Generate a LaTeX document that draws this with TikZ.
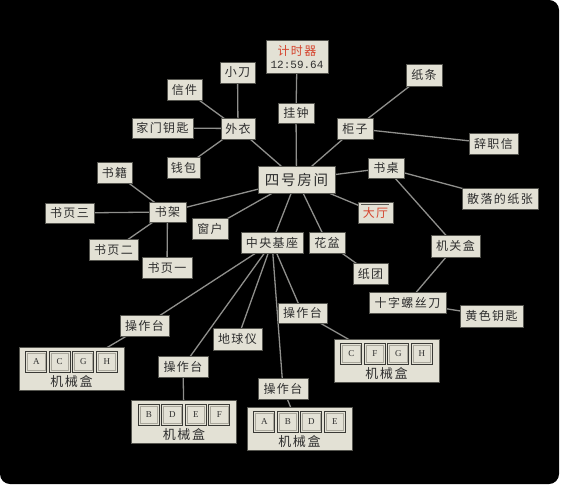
\documentclass[tikz,border=0pt]{standalone}
\usepackage{fontspec}
\newfontfamily\cjk[LetterSpace=12]{Noto Sans CJK SC}
\newfontfamily\keyfont{Liberation Serif}
\newfontfamily\digitfont{Liberation Mono}
\usetikzlibrary{backgrounds}
\definecolor{boxfill}{HTML}{E3E1D5}
\definecolor{boxline}{HTML}{55554F}
\definecolor{edgecol}{HTML}{8F8F8C}
\definecolor{txtcol}{HTML}{2E2E2E}
\definecolor{redtxt}{HTML}{D5442E}
\definecolor{keyline}{HTML}{3A3A36}
\definecolor{keyinner}{HTML}{A9A79C}
\tikzset{
  itembox/.style={draw=boxline, line width=0.6pt, fill=boxfill, inner sep=0pt,
    text=txtcol, font=\cjk\fontsize{12}{12}\selectfont, minimum height=21pt},
  bigbox/.style={itembox, font=\cjk\fontsize{14.5}{14.5}\selectfont, minimum height=27pt, minimum width=77pt},
  plaintext/.style={inner sep=0pt, text=txtcol, font=\cjk\fontsize{12}{12}\selectfont},
  link/.style={draw=edgecol, line width=1.3pt},
  keybox/.style={draw=keyline, line width=1pt, fill=boxfill, minimum width=21pt,
    minimum height=21pt, inner sep=0pt, font=\keyfont\fontsize{9}{9}\selectfont, text=txtcol,
    path picture={\draw[keyinner, line width=0.6pt]
      ([shift={(1.8pt,-1.8pt)}]path picture bounding box.north west) rectangle
      ([shift={(-1.8pt,1.8pt)}]path picture bounding box.south east);}},
}
\newcommand\mechbox[7]{%
  \node[itembox, minimum width=105pt, minimum height=43pt] (#1) at (#2,#3) {};
  \node[plaintext, font=\cjk\fontsize{13}{13}\selectfont] (#1-lbl) at ({#2},{#3+13}) {机械盒};
  \node[keybox] (#1-k1) at ({#2-35.25},{#3-7}) {#4};
  \node[keybox] (#1-k2) at ({#2-11.75},{#3-7}) {#5};
  \node[keybox] (#1-k3) at ({#2+11.75},{#3-7}) {#6};
  \node[keybox] (#1-k4) at ({#2+35.25},{#3-7}) {#7};
}
\begin{document}
\begin{tikzpicture}[x=1pt,y=-1pt]
\useasboundingbox (0,0) rectangle (561,486);
% nodes
\node[itembox, minimum width=62pt, minimum height=33pt] (timer) at (297,56.5) {};
\node[plaintext, text=redtxt] (timer-t) at (297,51) {计时器};
\node[plaintext, font=\digitfont\fontsize{11}{11}\selectfont] (timer-v) at (297,64.6) {12:59.64};
\node[itembox, minimum width=35pt] (xiaodao) at (237.5,72.5) {小刀};
\node[itembox, minimum width=35pt] (xinjian) at (184.5,89.5) {信件};
\node[itembox, minimum width=36pt, minimum height=22pt] (zhitiao) at (424,75) {纸条};
\node[itembox, minimum width=36pt, minimum height=20pt] (guazhong) at (296,113) {挂钟};
\node[itembox, minimum width=61pt, minimum height=20pt] (yaoshi) at (162.5,128) {家门钥匙};
\node[itembox, minimum width=34pt] (waiyi) at (238,128.5) {外衣};
\node[itembox, minimum width=36pt] (guizi) at (355,128.5) {柜子};
\node[itembox, minimum width=49pt] (cizhixin) at (493.5,143.5) {辞职信};
\node[itembox, minimum width=33pt] (qianbao) at (183.5,167.5) {钱包};
\node[itembox, minimum width=35pt] (shuji) at (114.5,172.5) {书籍};
\node[bigbox] (room) at (296.5,179.5) {四号房间};
\node[itembox, minimum width=36pt, minimum height=20pt] (shuzhuo) at (386,168) {书桌};
\node[itembox, minimum width=76pt] (zhizhang) at (500,198.5) {散落的纸张};
\node[itembox, minimum width=49pt, minimum height=20pt] (shuye3) at (69.5,213) {书页三};
\node[itembox, minimum width=37pt, minimum height=20pt] (shujia) at (167.5,212) {书架};
\node[itembox, minimum width=35pt, text=redtxt] (dating) at (375.5,212.5) {大厅};
\node[itembox, minimum width=36pt] (chuanghu) at (210,228.5) {窗户};
\node[itembox, minimum width=62pt] (jizuo) at (272,242.5) {中央基座};
\node[itembox, minimum width=36pt] (huapen) at (327,242.5) {花盆};
\node[itembox, minimum width=49pt] (shuye2) at (113.5,249.5) {书页二};
\node[itembox, minimum width=50pt] (shuye1) at (167,267.5) {书页一};
\node[itembox, minimum width=49pt, minimum height=22pt] (jiguanhe) at (455.5,246) {机关盒};
\node[itembox, minimum width=35pt] (zhituan) at (370.5,273.5) {纸团};
\node[itembox, minimum width=77pt] (luosidao) at (407.5,302.5) {十字螺丝刀};
\node[itembox, minimum width=63pt, minimum height=22pt] (huangyaoshi) at (491.5,316) {黄色钥匙};
\node[itembox, minimum width=49pt] (czL) at (144.5,325.5) {操作台};
\node[itembox, minimum width=49pt, minimum height=20pt] (czR) at (302.5,313) {操作台};
\node[itembox, minimum width=49pt, minimum height=22pt] (diqiuyi) at (237.5,339) {地球仪};
\node[itembox, minimum width=50pt] (czM) at (183,366.5) {操作台};
\node[itembox, minimum width=50pt] (czB) at (283,388.5) {操作台};
\mechbox{mA}{71.5}{368.5}{A}{C}{G}{H}
\mechbox{mR}{386.5}{361}{C}{F}{G}{H}
\mechbox{mM}{184}{421.5}{B}{D}{E}{F}
\mechbox{mB}{299.5}{429}{A}{B}{D}{E}
\draw[boxline, line width=0.7pt] ([xshift=3.5pt,yshift=-3pt]dating.north west) -- ([xshift=-4.5pt,yshift=-3pt]dating.north east);
% edges
\begin{pgfonlayer}{background}
\fill[white] (0,0) rectangle (561,486);
\fill[black, rounded corners=10pt] (0,0) rectangle (559,484);
\fill[black] (0,0) rectangle (20,20);
\foreach \a/\b in {timer/guazhong, guazhong/room, xiaodao/waiyi, xinjian/waiyi, yaoshi/waiyi,
  qianbao/waiyi, waiyi/room, zhitiao/guizi, guizi/cizhixin, guizi/room, shuzhuo/room,
  shuzhuo/zhizhang, shuzhuo/jiguanhe, jiguanhe/luosidao, luosidao/huangyaoshi,
  room/dating, room/huapen, huapen/zhituan, room/jizuo, room/chuanghu, room/shujia,
  shujia/shuji, shujia/shuye3, shujia/shuye2, shujia/shuye1,
  jizuo/czL, jizuo/czM, jizuo/diqiuyi, jizuo/czB, jizuo/czR,
  czL/mA, czM/mM, czR/mR, czB/mB}
  \draw[link] (\a.center) -- (\b.center);
\end{pgfonlayer}
\end{tikzpicture}
\end{document}
